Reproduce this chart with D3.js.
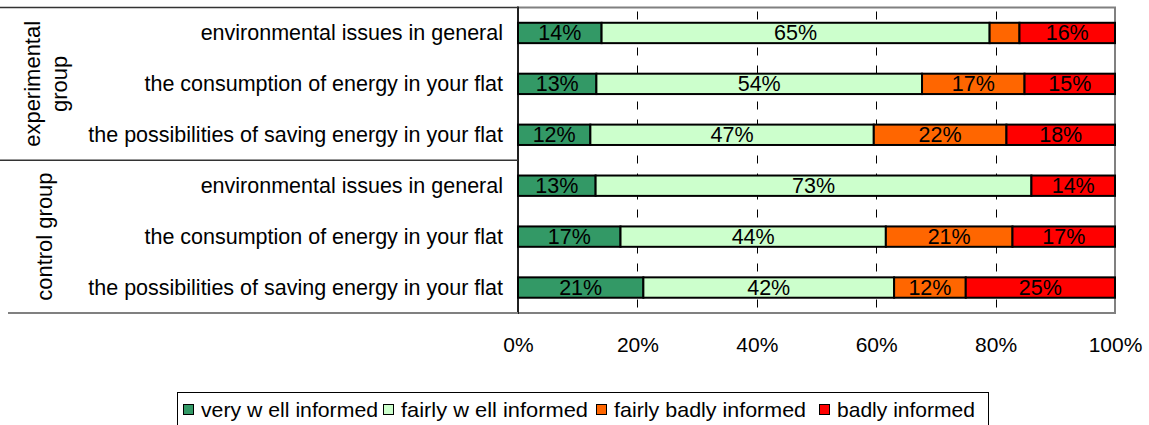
<!DOCTYPE html>
<html>
<head>
<meta charset="utf-8">
<script src="https://cdn.jsdelivr.net/npm/d3@7"></script>
<style>
  html, body { margin: 0; padding: 0; background: #fff; }
  svg { display: block; font-family: "Liberation Sans", Arial, sans-serif; }
</style>
</head>
<body>
<svg id="chart" width="1149" height="425"></svg>
<script>
// Survey answers: how well informed respondents feel, in percent
const questions = [
  "environmental issues in general",
  "the consumption of energy in your flat",
  "the possibilities of saving energy in your flat",
  "environmental issues in general",
  "the consumption of energy in your flat",
  "the possibilities of saving energy in your flat"
];
const groups = [
  { name: ["experimental", "group"], first: 0, last: 2 },
  { name: ["control group"], first: 3, last: 5 }
];
const seriesNames = ["very w ell informed", "fairly w ell informed", "fairly badly informed", "badly informed"];
const veryWell    = [14, 13, 12, 13, 17, 21];
const fairlyWell  = [65, 54, 47, 73, 44, 42];
const fairlyBadly = [5, 17, 22, 0, 21, 12];
const badly       = [16, 15, 18, 14, 17, 25];
const tickValues  = [0, 0.2, 0.4, 0.6, 0.8, 1];
const colors = ["#339966", "#CCFFCC", "#FF6600", "#FF0000"];

const rows = questions.map((q, i) => ({
  idx: i,
  s0: veryWell[i], s1: fairlyWell[i], s2: fairlyBadly[i], s3: badly[i]
}));
const keys = ["s0", "s1", "s2", "s3"];

const svg = d3.select("#chart");
const plot = { left: 518, right: 1115, top: 7.5, bottom: 313 };

const x = d3.scaleLinear().domain([0, 1]).range([plot.left, plot.right]);
const y = d3.scaleBand()
  .domain(rows.map(r => r.idx))
  .range([plot.top, plot.bottom])
  .paddingInner(0.6)
  .paddingOuter(0.3);

// 100% stacked layout
const stack = d3.stack().keys(keys).offset(d3.stackOffsetExpand);
const layers = stack(rows);

// plot area border
svg.append("rect")
  .attr("x", plot.left).attr("y", plot.top)
  .attr("width", plot.right - plot.left).attr("height", plot.bottom - plot.top)
  .attr("fill", "#fff").attr("stroke", "#808080").attr("stroke-width", 2);

// dashed vertical gridlines
svg.append("g")
  .selectAll("line")
  .data(tickValues.slice(1, -1))
  .join("line")
  .attr("x1", d => Math.round(x(d)) + 0.5).attr("x2", d => Math.round(x(d)) + 0.5)
  .attr("y1", plot.top).attr("y2", plot.bottom)
  .attr("stroke", "#000").attr("stroke-width", 1)
  .attr("stroke-dasharray", "8,10").attr("stroke-dashoffset", -4);

// bars
const layerG = svg.append("g")
  .selectAll("g")
  .data(layers)
  .join("g")
  .attr("fill", (d, i) => colors[i]);

layerG.selectAll("rect")
  .data(d => d)
  .join("rect")
  .attr("x", d => x(d[0]))
  .attr("y", d => y(d.data.idx))
  .attr("width", d => Math.max(0, x(d[1]) - x(d[0])))
  .attr("height", y.bandwidth())
  .attr("stroke", "#000")
  .attr("stroke-width", d => (d[1] - d[0]) > 0 ? 2 : 0);

// value labels inside segments
layerG.each(function (layer) {
  const key = layer.key;
  d3.select(this).selectAll("text")
    .data(layer.filter(d => d.data[key] >= 8))
    .join("text")
    .attr("x", d => (x(d[0]) + x(d[1])) / 2)
    .attr("y", d => y(d.data.idx) + y.bandwidth() / 2 + 7.5)
    .attr("text-anchor", "middle")
    .attr("fill", "#000")
    .attr("font-size", 21.5)
    .text(d => d.data[key] + "%");
});

// left axis line
svg.append("line")
  .attr("x1", plot.left).attr("x2", plot.left)
  .attr("y1", plot.top - 1).attr("y2", plot.bottom + 1)
  .attr("stroke", "#000").attr("stroke-width", 1.5);

// x axis tick labels
const xAxis = d3.axisBottom(x)
  .tickValues(tickValues)
  .tickSize(0)
  .tickPadding(0)
  .tickFormat(d3.format(".0%"));
const xg = svg.append("g")
  .attr("transform", `translate(0,${plot.bottom + 24})`)
  .call(xAxis);
xg.select(".domain").remove();
xg.selectAll("text")
  .attr("font-size", 21)
  .attr("font-family", "Liberation Sans, Arial, sans-serif")
  .attr("fill", "#000")
  .attr("dy", "0.71em");

// category labels
svg.append("g")
  .selectAll("text")
  .data(rows)
  .join("text")
  .attr("x", 503)
  .attr("y", d => y(d.idx) + y.bandwidth() / 2 + 7.5)
  .attr("text-anchor", "end")
  .attr("font-size", 21.5)
  .attr("fill", "#000")
  .text(d => questions[d.idx]);

// group separators on the category side
svg.append("line")
  .attr("x1", 0).attr("x2", plot.left).attr("y1", plot.top).attr("y2", plot.top)
  .attr("stroke", "#333").attr("stroke-width", 1.5);
const sepY = (y(groups[0].last) + y(groups[1].first) + y.bandwidth()) / 2;
svg.append("line")
  .attr("x1", 0).attr("x2", plot.left).attr("y1", sepY).attr("y2", sepY)
  .attr("stroke", "#333").attr("stroke-width", 1.5);
svg.append("line")
  .attr("x1", 8).attr("x2", plot.left).attr("y1", plot.bottom).attr("y2", plot.bottom)
  .attr("stroke", "#808080").attr("stroke-width", 2);

// group labels, rotated
groups.forEach(g => {
  const cy = (y(g.first) + y(g.last) + y.bandwidth()) / 2;
  const lines = g.name;
  const lineH = 27;
  const baseX = lines.length === 1 ? 52 : 40;
  lines.forEach((t, i) => {
    svg.append("text")
      .attr("transform", `translate(${baseX + i * lineH},${cy}) rotate(-90)`)
      .attr("text-anchor", "middle")
      .attr("font-size", 22)
      .attr("fill", "#000")
      .text(t);
  });
});

// legend
const legend = svg.append("g");
const legendY = 410;
legend.append("rect")
  .attr("x", 177.5).attr("y", 392.5)
  .attr("width", 811).attr("height", 45)
  .attr("fill", "#fff").attr("stroke", "#000").attr("stroke-width", 1);
const legendItemX = [183, 383, 596, 819];
const legendTextW = [177, 187, 192, 138];
seriesNames.forEach((name, i) => {
  const lx = legendItemX[i];
  legend.append("rect")
    .attr("x", lx + 0.5).attr("y", legendY - 5.5)
    .attr("width", 10).attr("height", 10)
    .attr("fill", colors[i]).attr("stroke", "#000").attr("stroke-width", 1);
  legend.append("text")
    .attr("x", lx + 18).attr("y", legendY + 7)
    .attr("font-size", 21)
    .attr("fill", "#000")
    .attr("textLength", legendTextW[i])
    .attr("lengthAdjust", "spacingAndGlyphs")
    .text(name);
});
</script>
</body>
</html>
